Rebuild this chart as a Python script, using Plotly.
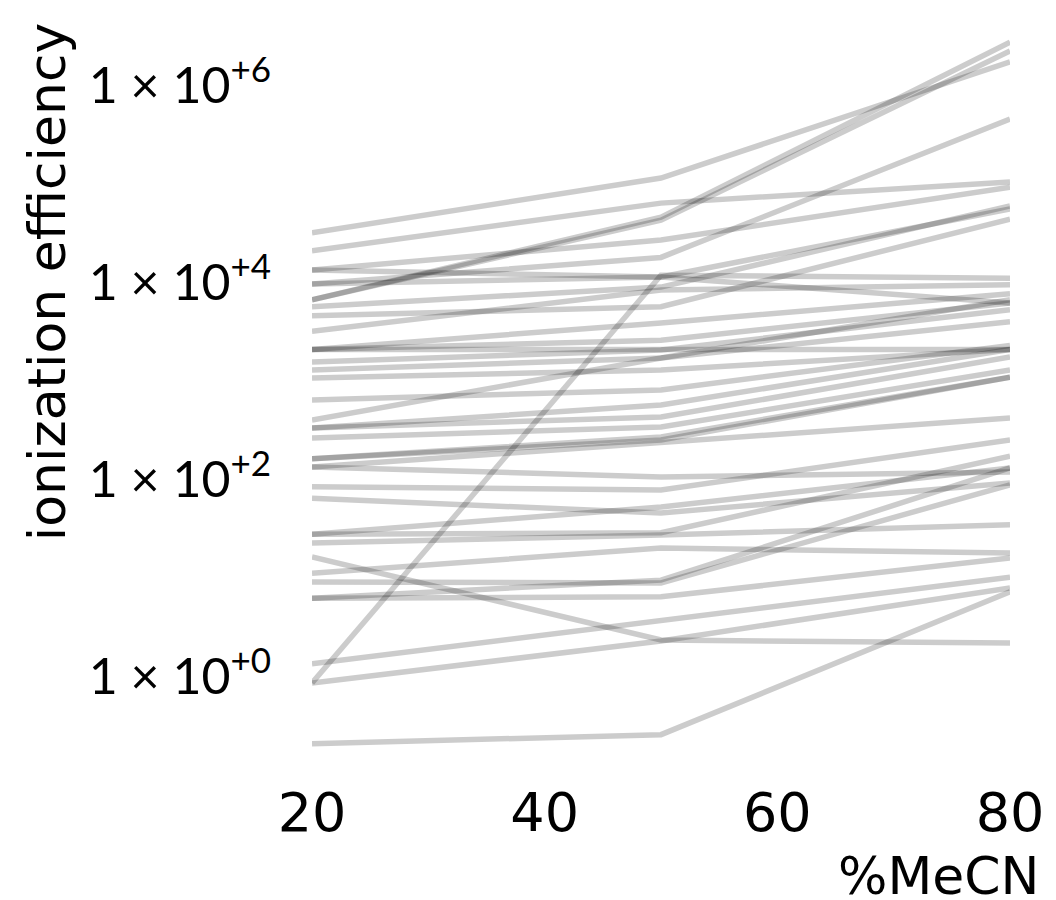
import plotly.graph_objects as go

# %MeCN levels
mecn = [20, 50, 80]

# ionization efficiency of each compound at 20, 50, 80 %MeCN
ie_20 = [3.2e4, 2.1e4, 6.7e3, 6.7e3, 1.34e4, 9.7e3, 1.34e4, 0.87, 9.7e3, 5.7e3,
         4.6e3, 3.2e3, 2.1e3, 2.1e3, 1.57e3, 1.30e3, 1.08e3, 645, 404, 335,
         335, 265, 2.1e3, 163, 163, 135, 135, 85, 65, 28,
         28, 22.9, 16.5, 11.3, 6.3, 6.3, 9.2, 1.36, 0.87, 0.21]
ie_50 = [1.15e5, 6.4e4, 4.6e4, 4.3e4, 2.7e4, 1.8e4, 1.14e4, 1.19e4, 1.14e4, 9.0e3,
         5.7e3, 8.4e3, 3.9e3, 2.6e3, 2.07e3, 1.72e3, 1.30e3, 815, 1.72e3, 574,
         434, 343, 2.07e3, 272, 253, 236, 107, 79, 46, 53,
         29, 27.5, 2.37, 20.3, 9.6, 6.5, 9.0, 3.8, 2.32, 0.26]
ie_80 = [1.73e6, 1.05e5, 2.75e6, 2.24e6, 9.3e4, 4.55e5, 6.2e3, 1.11e4, 5.6e4, 6.0e4,
         4.4e4, 9.5e3, 7.7e3, 6.2e3, 5.3e3, 4.0e3, 2.1e3, 2.3e3, 6.7e3, 2.1e3,
         1.76e3, 1.30e3, 2.1e3, 1.10e3, 1.10e3, 423, 120, 253, 93, 132,
         174, 35, 2.21, 18.1, 132, 16.1, 89, 10.3, 8.0, 7.3]

y_tickvals = [1, 1e2, 1e4, 1e6]
y_ticktext = ["1 × 10<sup>+0</sup>", "1 × 10<sup>+2</sup>",
              "1 × 10<sup>+4</sup>", "1 × 10<sup>+6</sup>"]
x_tickvals = [20, 40, 60, 80]

fig = go.Figure()
for a, b, c in zip(ie_20, ie_50, ie_80):
    fig.add_trace(go.Scatter(x=mecn, y=[a, b, c], mode="lines",
                             line=dict(color="rgba(0,0,0,0.2)", width=5.5),
                             showlegend=False, hoverinfo="skip"))

fig.update_layout(
    width=1056, height=900,
    margin=dict(l=312, r=44, t=30, b=140),
    paper_bgcolor="white", plot_bgcolor="white",
    font=dict(family="DejaVu Sans", size=50, color="black"),
    xaxis=dict(range=[20, 80], tickvals=x_tickvals, showgrid=False,
               zeroline=False, showline=False, ticks="outside", ticklen=5,
               tickcolor="rgba(0,0,0,0)",
               tickfont=dict(family="DejaVu Sans", size=54)),
    yaxis=dict(type="log", range=[-0.842, 6.562], tickvals=y_tickvals,
               ticktext=y_ticktext, showgrid=False, zeroline=False,
               showline=False, ticks="outside", ticklen=30,
               tickcolor="rgba(0,0,0,0)",
               tickfont=dict(family="Lato", size=50)),
    annotations=[
        dict(text="ionization efficiency", textangle=-90, xref="paper", yref="paper",
             x=-0.3786, y=1.0137, xanchor="center", yanchor="top", showarrow=False,
             font=dict(family="DejaVu Sans", size=52)),
        dict(text="%MeCN", xref="paper", yref="paper", x=1.045, y=-0.1585,
             xanchor="right", yanchor="middle", showarrow=False,
             font=dict(family="DejaVu Sans", size=52)),
    ],
)
fig.write_html("out.html")
